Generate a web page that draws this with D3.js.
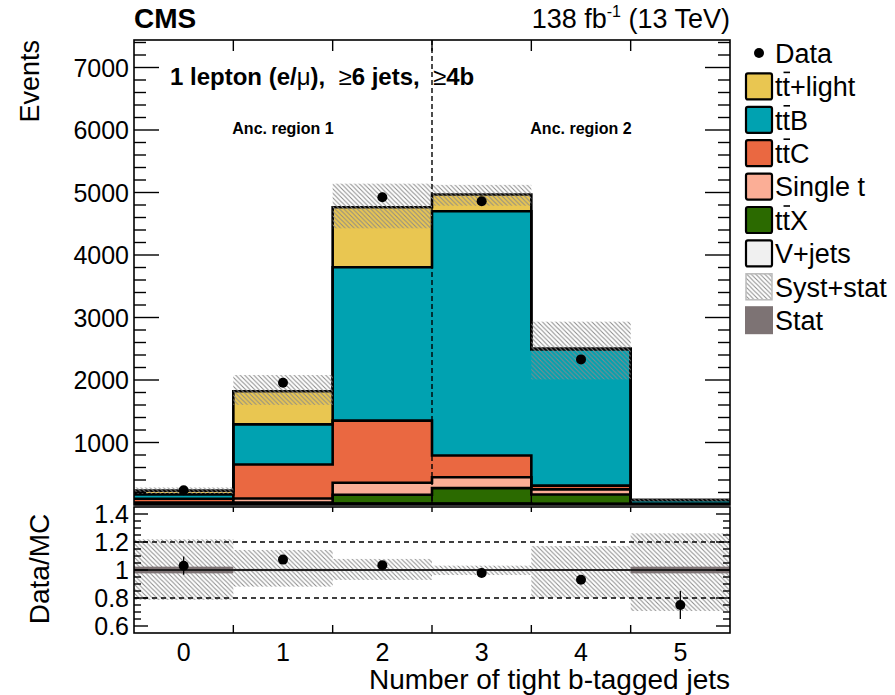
<!DOCTYPE html>
<html><head><meta charset="utf-8">
<script src="https://cdn.jsdelivr.net/npm/d3@7"></script>
<style>body{margin:0;background:#fff} text{font-family:"Liberation Sans",Arial,Helvetica,sans-serif}</style>
</head><body><svg id="c" width="895" height="695"></svg>
<script>
// ---------------- data ----------------
const bins = [0, 1, 2, 3, 4, 5];
const binLabels = ["0", "1", "2", "3", "4", "5"];
const vjets   = [5, 10, 25, 25, 15, 1];
const ttX     = [18, 30, 140, 245, 153, 5];
const singleT = [17, 64, 190, 175, 82, 5];
const ttC     = [60, 544, 995, 347, 60, 5];
const ttB     = [70, 642, 2455, 3908, 2180, 64];
const ttLight = [60, 530, 960, 268, 15, 0];
const dataVals = [237, 1955, 4925, 4860, 2330, 60];
const dataErr  = [15, 44, 70, 70, 48, 8];
const dataShownInMain = [true, true, true, true, true, false];
const systLo  = [0.786, 0.881, 0.929, 0.964, 0.802, 0.707];
const systHi  = [1.219, 1.143, 1.079, 1.031, 1.171, 1.262];
const statRel = [0.024, 0.008, 0.005, 0.004, 0.006, 0.024];
const mainTicks = [1000, 2000, 3000, 4000, 5000, 6000, 7000];
const ratioTicks = [0.6, 0.8, 1, 1.2, 1.4];
const ratioTickLabels = ["0.6", "0.8", "1", "1.2", "1.4"];

const layers = [
  {name: "V+jets", vals: vjets, color: "#f0f0f0"},
  {name: "ttX", vals: ttX, color: "#2b6a00"},
  {name: "Single t", vals: singleT, color: "#fbae96"},
  {name: "ttC", vals: ttC, color: "#ea6841"},
  {name: "ttB", vals: ttB, color: "#00a2b1"},
  {name: "tt+light", vals: ttLight, color: "#e9c651"}
];

// ---------------- geometry ----------------
const L = 134, R = 730, mTop = 40, mBot = 505, rTop = 507, rBot = 633;
const svg = d3.select("#c");
const x = d3.scaleLinear().domain([-0.5, 5.5]).range([L, R]);
const y = d3.scaleLinear().domain([0, 7440]).range([mBot, mTop]);
const yr = d3.scaleLinear().domain([0.55, 1.45]).range([rBot, rTop]);

const defs = svg.append("defs");
const pat = defs.append("pattern").attr("id", "hatch").attr("patternUnits", "userSpaceOnUse")
  .attr("width", 4.5).attr("height", 4.5);
pat.append("path").attr("d", "M-1,-1 L5.5,5.5 M-1,3.5 L1,5.5 M3.5,-1 L5.5,1")
  .attr("stroke", "#8a8a8a").attr("stroke-width", 1);
defs.append("clipPath").attr("id", "mclip").append("rect")
  .attr("x", L).attr("y", mTop).attr("width", R - L).attr("height", mBot - mTop);
defs.append("clipPath").attr("id", "rclip").append("rect")
  .attr("x", L).attr("y", rTop).attr("width", R - L).attr("height", rBot - rTop);

// cumulative stacks
const cum = [];
let base = bins.map(() => 0);
layers.forEach(l => {
  const top = base.map((b, i) => b + l.vals[i]);
  cum.push({lo: base.slice(), hi: top, color: l.color});
  base = top;
});
const total = base;

function stepPts(arr) {
  const pts = bins.map(i => [x(i - 0.5), arr[i]]);
  pts.push([x(5.5), arr[5]]);
  return pts;
}

const gMain = svg.append("g").attr("clip-path", "url(#mclip)");
cum.forEach(c => {
  const lo = stepPts(c.lo), hi = stepPts(c.hi);
  const area = d3.area().curve(d3.curveStepAfter)
    .x(d => d[0]).y0((d, i) => y(lo[i][1])).y1(d => y(d[1]));
  gMain.append("path").attr("d", area(hi)).attr("fill", c.color).attr("stroke", "none");
});
cum.forEach(c => {
  const line = d3.line().curve(d3.curveStepAfter).x(d => d[0]).y(d => y(d[1]));
  gMain.append("path").attr("d", line(stepPts(c.hi))).attr("fill", "none")
    .attr("stroke", "#000").attr("stroke-width", 2.6);
});
gMain.append("line").attr("x1", L).attr("x2", R).attr("y1", mBot - 1).attr("y2", mBot - 1)
  .attr("stroke", "#000").attr("stroke-width", 3);
bins.forEach(i => {
  gMain.append("rect").attr("x", x(i - 0.5)).attr("width", x(i + 0.5) - x(i - 0.5))
    .attr("y", y(total[i] * systHi[i])).attr("height", y(total[i] * systLo[i]) - y(total[i] * systHi[i]))
    .attr("fill", "url(#hatch)");
});
gMain.append("line").attr("x1", x(2.5)).attr("x2", x(2.5)).attr("y1", mTop).attr("y2", mBot)
  .attr("stroke", "#000").attr("stroke-width", 1.4).attr("stroke-dasharray", "5,3");
bins.filter(i => dataShownInMain[i]).forEach(i => {
  gMain.append("line").attr("x1", x(i)).attr("x2", x(i)).attr("y1", y(dataVals[i] - dataErr[i]))
    .attr("y2", y(dataVals[i] + dataErr[i])).attr("stroke", "#000").attr("stroke-width", 1.3);
  gMain.append("circle").attr("cx", x(i)).attr("cy", y(dataVals[i])).attr("r", 5).attr("fill", "#000");
});

// main frame & ticks
const ax = svg.append("g").attr("stroke", "#000").attr("stroke-width", 1.4);
ax.append("rect").attr("x", L).attr("y", mTop).attr("width", R - L).attr("height", mBot - mTop)
  .attr("fill", "none").attr("stroke-width", 1.6);
for (let v = 200; v <= 7400; v += 200) {
  const major = v % 1000 === 0;
  const len = major ? 25 : 12;
  ax.append("line").attr("x1", L).attr("x2", L + len).attr("y1", y(v)).attr("y2", y(v));
  ax.append("line").attr("x1", R).attr("x2", R - len).attr("y1", y(v)).attr("y2", y(v));
}
for (let e = 0.5; e < 5.5; e += 1) {
  ax.append("line").attr("x1", x(e)).attr("x2", x(e)).attr("y1", mTop).attr("y2", mTop + 11);
  ax.append("line").attr("x1", x(e)).attr("x2", x(e)).attr("y1", mBot).attr("y2", mBot - 11);
}
svg.append("g").selectAll("text").data(mainTicks).join("text")
  .attr("x", L - 5).attr("y", d => y(d)).attr("dy", "0.36em").attr("text-anchor", "end")
  .attr("font-size", 25).text(d => d);

// ---------------- ratio panel ----------------
const gR = svg.append("g").attr("clip-path", "url(#rclip)");
bins.forEach(i => {
  gR.append("rect").attr("x", x(i - 0.5)).attr("width", x(i + 0.5) - x(i - 0.5))
    .attr("y", yr(systHi[i])).attr("height", yr(systLo[i]) - yr(systHi[i])).attr("fill", "url(#hatch)");
});
bins.forEach(i => {
  gR.append("rect").attr("x", x(i - 0.5)).attr("width", x(i + 0.5) - x(i - 0.5))
    .attr("y", yr(1 + statRel[i])).attr("height", yr(1 - statRel[i]) - yr(1 + statRel[i])).attr("fill", "#7d7374");
});
[0.8, 1.2].forEach(v => gR.append("line").attr("x1", L).attr("x2", R).attr("y1", yr(v)).attr("y2", yr(v))
  .attr("stroke", "#000").attr("stroke-width", 1.4).attr("stroke-dasharray", "5,4"));
gR.append("line").attr("x1", L).attr("x2", R).attr("y1", yr(1)).attr("y2", yr(1))
  .attr("stroke", "#000").attr("stroke-width", 1.6);
bins.forEach(i => {
  const r = dataVals[i] / total[i], er = dataErr[i] / total[i];
  gR.append("line").attr("x1", x(i)).attr("x2", x(i)).attr("y1", yr(r - er)).attr("y2", yr(r + er))
    .attr("stroke", "#000").attr("stroke-width", 1.3);
  gR.append("circle").attr("cx", x(i)).attr("cy", yr(r)).attr("r", 5).attr("fill", "#000");
});
const axr = svg.append("g").attr("stroke", "#000").attr("stroke-width", 1.4);
axr.append("rect").attr("x", L).attr("y", rTop).attr("width", R - L).attr("height", rBot - rTop)
  .attr("fill", "none").attr("stroke-width", 1.6);
for (let k = 12; k <= 28; k++) {
  const v = k * 0.05;
  const major = k % 4 === 0;
  const len = major ? 14 : 7;
  axr.append("line").attr("x1", L).attr("x2", L + len).attr("y1", yr(v)).attr("y2", yr(v));
  axr.append("line").attr("x1", R).attr("x2", R - len).attr("y1", yr(v)).attr("y2", yr(v));
}
for (let e = 0.5; e < 5.5; e += 1) {
  axr.append("line").attr("x1", x(e)).attr("x2", x(e)).attr("y1", rTop).attr("y2", rTop + 5);
  axr.append("line").attr("x1", x(e)).attr("x2", x(e)).attr("y1", rBot).attr("y2", rBot - 8);
}
svg.append("g").selectAll("text").data(ratioTicks).join("text")
  .attr("x", L - 5).attr("y", d => yr(d)).attr("dy", "0.36em").attr("text-anchor", "end")
  .attr("font-size", 25).text((d, i) => ratioTickLabels[i]);
svg.append("g").selectAll("text").data(bins).join("text")
  .attr("x", d => x(d)).attr("y", 661).attr("text-anchor", "middle")
  .attr("font-size", 25).text(d => binLabels[d]);

// ---------------- texts ----------------
svg.append("text").attr("x", R).attr("y", 689).attr("text-anchor", "end").attr("font-size", 28)
  .text("Number of tight b-tagged jets");
svg.append("text").attr("transform", "translate(39,40) rotate(-90)").attr("text-anchor", "end")
  .attr("font-size", 27).text("Events");
svg.append("text").attr("transform", "translate(49,569) rotate(-90)").attr("text-anchor", "middle")
  .attr("font-size", 28).text("Data/MC");
svg.append("text").attr("x", L).attr("y", 28).attr("font-size", 28).attr("font-weight", "bold").text("CMS");
const lumi = svg.append("text").attr("x", R).attr("y", 28).attr("text-anchor", "end").attr("font-size", 27);
lumi.append("tspan").text("138 fb");
lumi.append("tspan").attr("font-size", 16).attr("dy", -11).text("-1");
lumi.append("tspan").attr("dy", 11).text(" (13 TeV)");
const hdr = svg.append("text").attr("x", 170).attr("y", 85).attr("font-size", 24).attr("font-weight", "bold")
  .attr("xml:space", "preserve");
hdr.append("tspan").text("1 lepton (e/");
hdr.append("tspan").attr("font-weight", "normal").text("\u03bc");
hdr.append("tspan").text("),  ");
hdr.append("tspan").attr("font-weight", "normal").text("\u2265");
hdr.append("tspan").text("6 jets,  ");
hdr.append("tspan").attr("font-weight", "normal").text("\u2265");
hdr.append("tspan").text("4b");
svg.append("text").attr("x", x(1)).attr("y", 134).attr("text-anchor", "middle").attr("font-size", 16)
  .attr("font-family", "DejaVu Sans").attr("font-weight", "bold").text("Anc. region 1");
svg.append("text").attr("x", x(4)).attr("y", 134).attr("text-anchor", "middle").attr("font-size", 16)
  .attr("font-family", "DejaVu Sans").attr("font-weight", "bold").text("Anc. region 2");

// ---------------- legend ----------------
const legItems = [
  {label: "Data", type: "dot"},
  {label: "+light", tt: true, type: "box", color: "#e9c651"},
  {label: "B", tt: true, type: "box", color: "#00a2b1"},
  {label: "C", tt: true, type: "box", color: "#ea6841"},
  {label: "Single t", type: "box", color: "#fbae96"},
  {label: "X", tt: true, type: "box", color: "#2b6a00"},
  {label: "V+jets", type: "box", color: "#f0f0f0"},
  {label: "Syst+stat", type: "hatch"},
  {label: "Stat", type: "stat"}
];
const lg = svg.append("g");
legItems.forEach((it, k) => {
  const cy = 53 + k * 33.4;
  if (it.type === "dot") {
    lg.append("circle").attr("cx", 759).attr("cy", cy).attr("r", 5).attr("fill", "#000");
  } else if (it.type === "box") {
    lg.append("rect").attr("x", 746).attr("y", cy - 13).attr("width", 26).attr("height", 26).attr("rx", 2)
      .attr("fill", it.color).attr("stroke", "#000").attr("stroke-width", 2.2);
  } else if (it.type === "hatch") {
    lg.append("rect").attr("x", 746).attr("y", cy - 13).attr("width", 26).attr("height", 26)
      .attr("fill", "url(#hatch)").attr("stroke", "#bbb").attr("stroke-width", 1.5);
  } else {
    lg.append("rect").attr("x", 745).attr("y", cy - 14).attr("width", 28).attr("height", 28).attr("fill", "#7d7374");
  }
  const tx = 775;
  const t = lg.append("text").attr("x", tx).attr("y", cy).attr("dy", "0.36em").attr("font-size", 27);
  if (it.tt) {
    t.text("tt" + it.label);
    const n = t.node();
    const s = tx + n.getSubStringLength(0, 1), w = n.getSubStringLength(1, 1);
    lg.append("line").attr("x1", s + 1).attr("x2", s + w).attr("y1", cy - 14).attr("y2", cy - 14)
      .attr("stroke", "#000").attr("stroke-width", 1.6);
  } else {
    t.text(it.label);
  }
});
</script></body></html>
